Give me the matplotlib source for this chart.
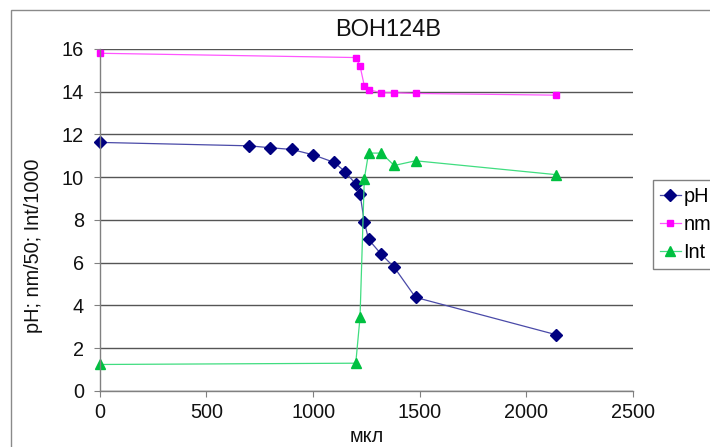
import matplotlib
matplotlib.use('Agg')
import matplotlib.pyplot as plt
from matplotlib.patches import Rectangle

plt.rcParams['font.family'] = ['Liberation Sans', 'DejaVu Sans']

# данные
x_ph = [0, 700, 800, 900, 1000, 1100, 1150, 1200, 1220, 1240, 1260, 1320, 1380, 1480, 2140]
ph = [11.63, 11.47, 11.38, 11.30, 11.05, 10.69, 10.26, 9.68, 9.21, 7.92, 7.09, 6.39, 5.79, 4.38, 2.63]

x_nm = [0, 1200, 1220, 1240, 1260, 1320, 1380, 1480, 2140]
nm = [15.80, 15.60, 15.21, 14.28, 14.10, 13.95, 13.95, 13.92, 13.84]

x_int = [0, 1200, 1220, 1240, 1260, 1320, 1380, 1480, 2140]
intens = [1.24, 1.30, 3.45, 9.92, 11.13, 11.13, 10.55, 10.77, 10.12]

x_ticks = [0, 500, 1000, 1500, 2000, 2500]
y_ticks = [0, 2, 4, 6, 8, 10, 12, 14, 16]

fig = plt.figure(figsize=(7.1, 4.47), dpi=100)
ax = fig.add_axes([0.1404, 0.1253, 0.7514, 0.7651])

# рамка области диаграммы (обрезана справа и снизу)
fig.add_artist(Rectangle((11 / 710, -0.5), 2.0, 0.5 + 437 / 447, transform=fig.transFigure,
                         fill=False, edgecolor='#8a8a8a', linewidth=1.0))

ax.plot(x_ph, ph, color='#4a4aa8', lw=0.9, marker='D', ms=5.8,
        mfc='#000080', mec='#000080', label='pH', clip_on=False)
ax.plot(x_nm, nm, color='#ff55ff', lw=0.9, marker='s', ms=5.0,
        mfc='#ff00ff', mec='#ff00ff', label='nm', clip_on=False)
ax.plot(x_int, intens, color='#40dd80', lw=0.9, marker='^', ms=7.0,
        mfc='#00c040', mec='#00c040', label='Int', clip_on=False)

ax.set_xlim(0, 2500)
ax.set_ylim(0, 16)
ax.set_xticks(x_ticks)
ax.set_yticks(y_ticks)
ax.grid(axis='y', color='#555555', lw=1.0)
ax.set_axisbelow(True)

for s in ['top', 'right']:
    ax.spines[s].set_visible(False)
for s in ['left', 'bottom']:
    ax.spines[s].set_color('#808080')
    ax.spines[s].set_linewidth(1.0)

ax.tick_params(axis='both', direction='out', color='#808080', labelsize=14.3, labelcolor='#111111')
ax.tick_params(axis='y', length=4.3, pad=7)
ax.tick_params(axis='x', length=4.0, pad=5)

ax.set_xlabel('мкл', fontsize=14.3, color='#111111', labelpad=3.5)
ax.set_ylabel('pH; nm/50; Int/1000', fontsize=14.3, color='#111111')
ax.yaxis.set_label_coords(-0.107, 0.424)

fig.text(388 / 710, 1 - 30 / 447, 'BOH124B', fontsize=17, ha='center', va='center', color='#111111')

leg = fig.legend(loc='upper left', bbox_to_anchor=(653 / 710, 1 - 180 / 447),
                 bbox_transform=fig.transFigure, fontsize=14.3, frameon=True, fancybox=False,
                 borderpad=0.35, borderaxespad=0, handlelength=1.06, handletextpad=0.12,
                 labelspacing=0.45, framealpha=1)
leg.get_frame().set_edgecolor('#808080')
leg.get_frame().set_linewidth(1.0)

fig.savefig('out.png', dpi=100)
